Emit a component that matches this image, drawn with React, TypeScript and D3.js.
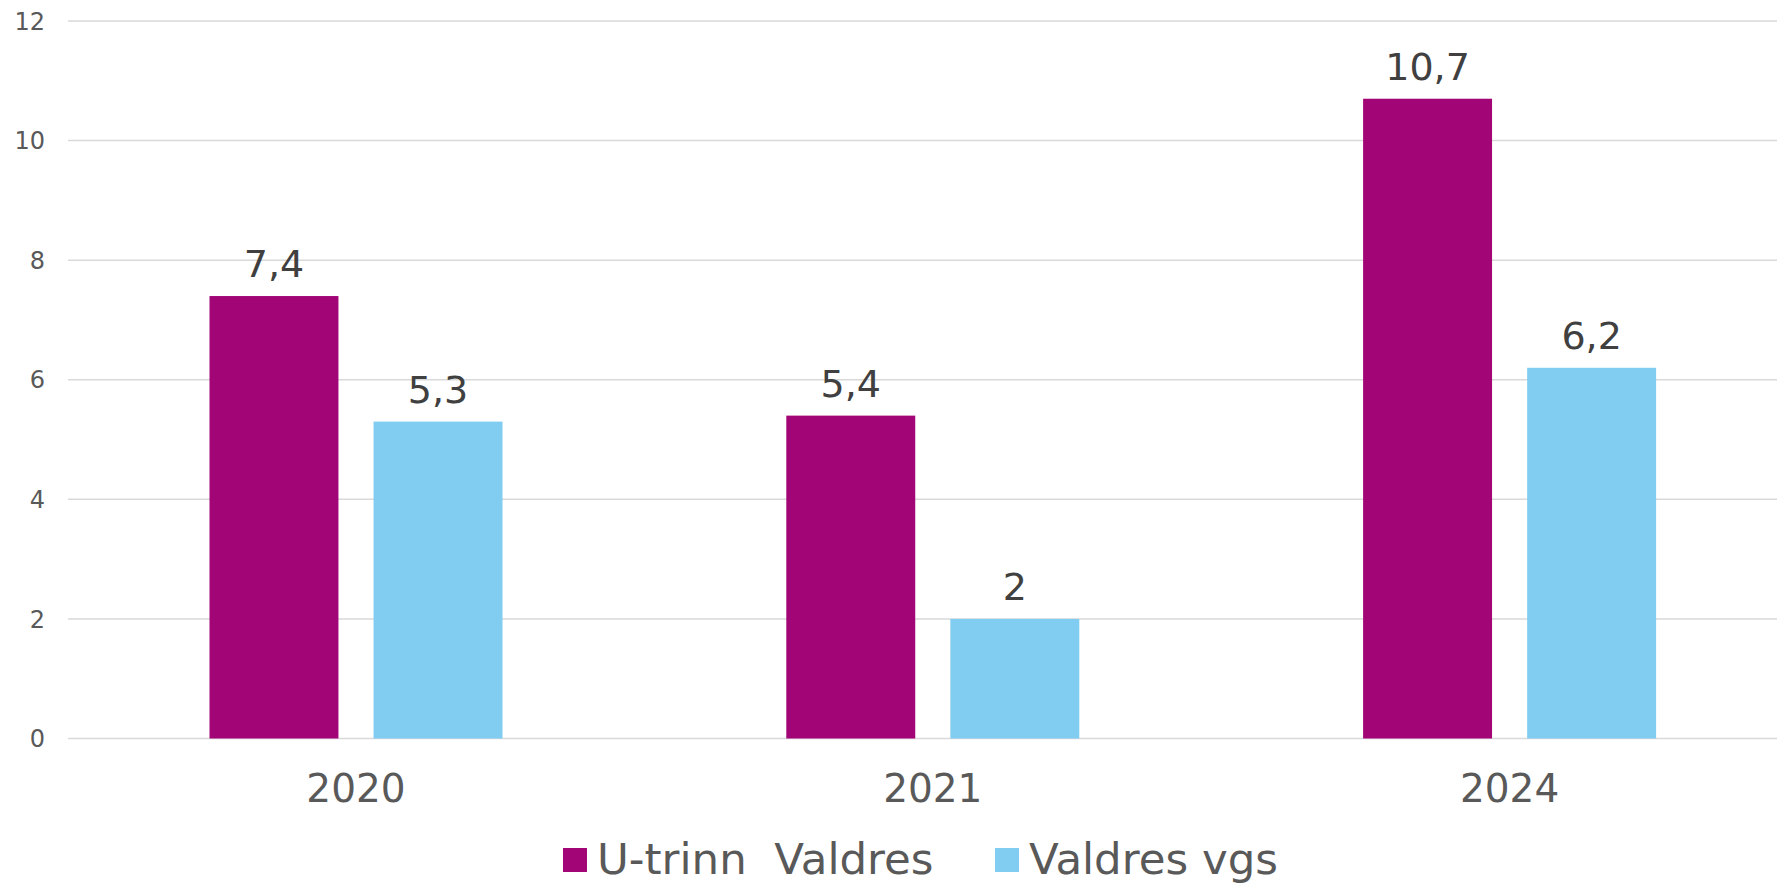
import React from "react";
import * as d3 from "d3";

const categories = ["2020", "2021", "2024"];
const seriesNames = ["U-trinn  Valdres", "Valdres vgs"];
const uTrinn = [7.4, 5.4, 10.7];
const valdresVgs = [5.3, 2, 6.2];
const yTicks = [0, 2, 4, 6, 8, 10, 12];
const colors = ["#a10576", "#80cdf1"];

const W = 1777;
const H = 883;

export default function App() {
  const x0 = d3.scaleBand<string>().domain(categories).range([67.6, 1798]).padding(0);
  const groupW = 293;
  const x1 = d3.scaleBand<string>().domain(seriesNames).range([0, groupW]).paddingInner(0.214).paddingOuter(0);
  const y = d3.scaleLinear().domain([0, 12]).range([738.5, 21]);
  const series = [uTrinn, valdresVgs];
  const fmt = (v: number) => String(v).replace(".", ",");
  const font = "'DejaVu Sans', Verdana, sans-serif";

  return (
    <svg width={W} height={H} style={{ position: "absolute", left: 0, top: 0, background: "#fff" }} fontFamily={font}>
      {yTicks.map((t) => (
        <g key={t}>
          <line x1={68} x2={W} y1={y(t)} y2={y(t)} stroke="#d9d9d9" strokeWidth={1.5} />
          <text x={45} y={y(t)} dy="0.36em" textAnchor="end" fontSize={24} fill="#595959">{t}</text>
        </g>
      ))}
      {categories.map((c, i) => {
        const gx = (x0(c) as number) + (x0.bandwidth() - groupW) / 2;
        return (
          <g key={c}>
            {seriesNames.map((s, j) => {
              const v = series[j][i];
              const bx = gx + (x1(s) as number);
              return (
                <g key={s}>
                  <rect x={bx} y={y(v)} width={x1.bandwidth()} height={y(0) - y(v)} fill={colors[j]} />
                  <text x={bx + x1.bandwidth() / 2} y={y(v) - 19} textAnchor="middle" fontSize={38} fill="#404040">{fmt(v)}</text>
                </g>
              );
            })}
            <text x={(x0(c) as number) + x0.bandwidth() / 2} y={802} textAnchor="middle" fontSize={39} fill="#595959">{c}</text>
          </g>
        );
      })}
      {seriesNames.map((s, j) => {
        const mx = j === 0 ? 563 : 995;
        return (
          <g key={s}>
            <rect x={mx} y={848} width={24} height={24} fill={colors[j]} />
            <text x={mx + 34} y={874} fontSize={43.5} fill="#595959" style={{ whiteSpace: "pre" }}>{s}</text>
          </g>
        );
      })}
    </svg>
  );
}
